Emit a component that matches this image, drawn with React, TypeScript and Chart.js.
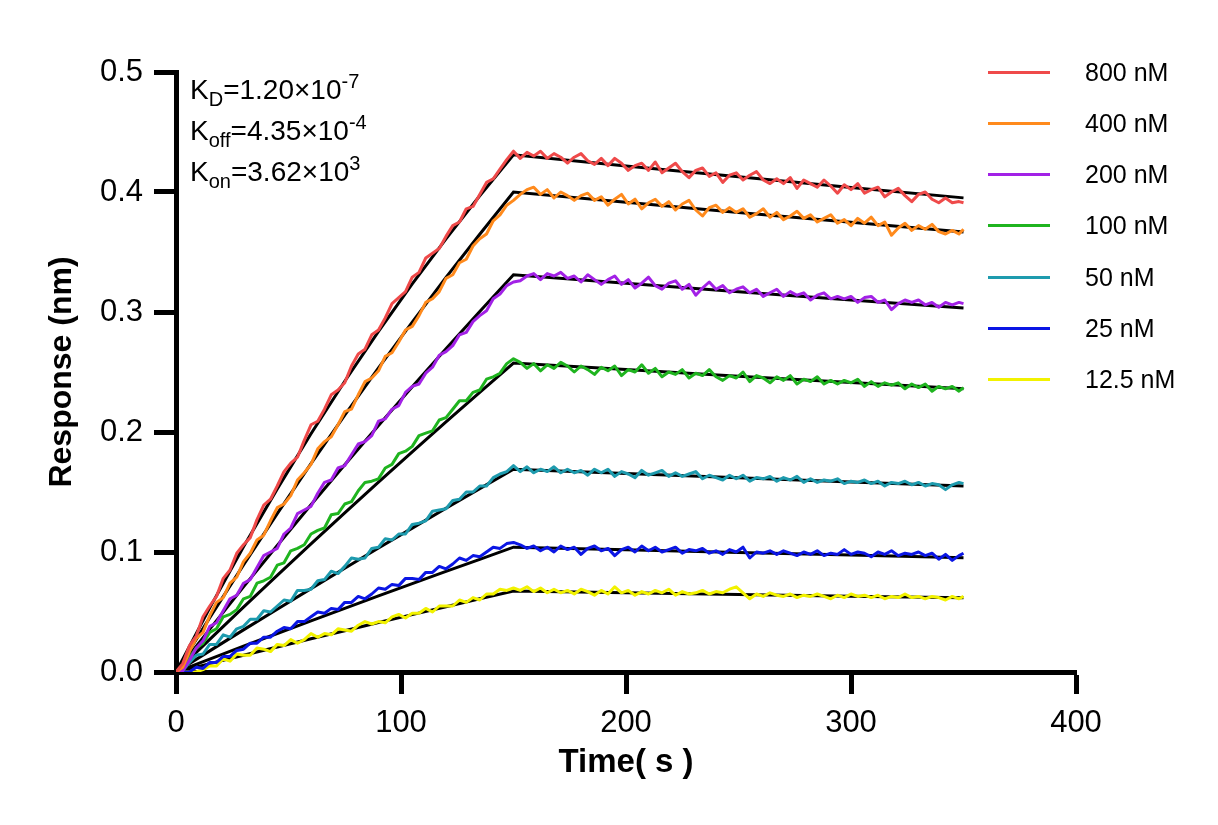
import React, { useEffect, useRef } from "react";
import { Chart, registerables } from "chart.js";

Chart.register(...registerables);

const FONT = 'Arial, "Liberation Sans", Helvetica, sans-serif';

const TIME = [0,3,6,9,12,15,18,21,24,27,30,33,36,39,42,45,48,51,54,57,60,63,66,69,72,75,78,81,84,87,90,93,96,99,102,105,108,111,114,117,120,123,126,129,132,135,138,141,144,147,150,153,156,159,162,165,168,171,174,177,180,183,186,189,192,195,198,201,204,207,210,213,216,219,222,225,228,231,234,237,240,243,246,249,252,255,258,261,264,267,270,273,276,279,282,285,288,291,294,297,300,303,306,309,312,315,318,321,324,327,330,333,336,339,342,345,348,350];

const LABELS = ["800 nM", "400 nM", "200 nM", "100 nM", "50 nM", "25 nM", "12.5 nM"];
const COLORS = ["#EF4A4A", "#FF8A1C", "#A221E6", "#1FB41F", "#1E9BAE", "#0B16E4", "#F2F200"];

const R800 = [0,.007,.022,.030,.046,.055,.063,.078,.085,.099,
.106,.112,.127,.139,.144,.155,.167,.174,.179,.193,
.206,.209,.219,.231,.235,.241,.255,.265,.269,.281,
.285,.295,.307,.312,.317,.329,.333,.345,.349,.353,
.363,.372,.375,.386,.388,.398,.408,.411,.419,.427,
.434,
.428,.433,.430,.434,.428,.432,.429,.424,.429,.432,
.426,.423,.428,.422,.428,.424,.418,.422,.424,.418,
.425,.416,.420,.424,.417,.412,.418,.420,.413,.416,
.408,.414,.416,.410,.414,.417,.410,.407,.411,.407,
.412,.403,.410,.407,.404,.410,.405,.399,.406,.402,
.407,.399,.402,.404,.396,.400,.403,.397,.392,.398,
.400,.394,.391,.395,.391,.392,
.391];

const R400 = [0,.004,.017,.028,.033,.047,.058,.062,.074,.079,
.092,.099,.110,.114,.126,.137,.140,.147,.160,.166,
.173,.186,.192,.196,.206,.217,.219,.231,.242,.245,
.251,.263,.266,.275,.285,.288,.297,.308,.311,.317,
.328,.331,.341,.344,.355,.361,.365,.376,.381,.389,
.393,
.398,.402,.404,.398,.402,.395,.400,.397,.393,.397,
.399,.393,.396,.389,.394,.398,.390,.394,.386,.391,
.394,.388,.392,.385,.390,.393,.385,.380,.387,.389,
.383,.387,.383,.386,.379,.382,.386,.379,.383,.377,
.380,.384,.378,.381,.375,.378,.381,.374,.377,.372,
.378,.374,.379,.372,.375,.364,.370,.374,.368,.372,
.369,.373,.367,.365,.368,.365,
.369];

const R200 = [0,.001,.010,.020,.026,.038,.041,.051,.061,.064,
.074,.077,.087,.097,.100,.103,.115,.120,.132,.135,
.138,.149,.158,.160,.170,.172,.181,.190,.192,.197,
.209,.211,.219,.222,.233,.238,.240,.249,.254,.264,
.267,.272,.281,.283,.292,.297,.301,.311,.315,.322,
.325,
.326,.330,.332,.327,.332,.330,.333,.328,.330,.325,
.331,.327,.323,.327,.330,.323,.327,.320,.324,.329,
.322,.319,.324,.326,.319,.323,.314,.320,.325,.319,
.322,.316,.319,.321,.316,.319,.313,.316,.319,.313,
.317,.314,.316,.310,.314,.316,.311,.313,.311,.313,
.308,.312,.313,.308,.310,.302,.307,.310,.308,.310,
.306,.308,.304,.308,.306,.308,
.307];

const R100 = [0,.002,.012,.020,.024,.033,.036,.046,.048,.052,
.061,.063,.074,.076,.079,.089,.091,.101,.103,.106,
.115,.118,.120,.131,.132,.140,.142,.151,.158,.159,
.161,.170,.173,.182,.184,.188,.197,.199,.201,.210,
.212,.219,.226,.226,.233,.235,.244,.246,.249,.257,
.261,
.258,.253,.257,.251,.256,.253,.258,.255,.250,.255,
.252,.248,.254,.251,.255,.247,.252,.250,.256,.249,
.253,.246,.250,.248,.252,.245,.249,.247,.252,.246,
.243,.247,.245,.250,.242,.247,.245,.241,.246,.243,
.247,.240,.244,.242,.246,.240,.243,.240,.243,.241,
.244,.238,.242,.238,.241,.239,.241,.236,.240,.237,
.240,.234,.238,.236,.238,.234,
.237];

const R50 = [0,.001,.008,.014,.015,.023,.023,.031,.029,.036,
.038,.044,.044,.051,.050,.055,.060,.059,.068,.068,
.069,.076,.077,.084,.082,.088,.095,.094,.095,.103,
.104,.111,.110,.115,.115,.123,.124,.126,.134,.135,
.136,.143,.144,.150,.150,.155,.155,.162,.165,.167,
.172,
.167,.171,.166,.169,.167,.171,.166,.169,.166,.168,
.164,.169,.166,.169,.163,.167,.165,.162,.168,.164,
.166,.168,.163,.166,.163,.165,.167,.161,.164,.162,
.160,.164,.161,.164,.159,.162,.161,.163,.159,.162,
.160,.163,.158,.161,.158,.160,.159,.161,.157,.159,
.158,.160,.157,.159,.155,.158,.157,.159,.156,.158,
.155,.157,.156,.152,.156,.158,
.157];

const R25 = [0,0,0,.004,.003,.008,.008,.013,.013,.018,
.019,.024,.024,.029,.029,.034,.037,.036,.042,.042,
.046,.050,.049,.053,.052,.058,.058,.063,.061,.065,
.070,.069,.073,.072,.078,.078,.077,.083,.083,.088,
.086,.090,.095,.093,.097,.096,.100,.104,.103,.107,
.108,
.106,.103,.105,.101,.104,.100,.105,.102,.104,.098,
.103,.105,.101,.103,.097,.102,.104,.100,.105,.101,
.104,.100,.102,.104,.099,.102,.101,.103,.099,.101,
.098,.102,.100,.104,.095,.100,.099,.101,.098,.101,
.099,.097,.100,.098,.101,.097,.099,.098,.102,.098,
.100,.099,.096,.100,.098,.101,.097,.099,.098,.100,
.097,.099,.094,.098,.093,.097,
.099];

const R12_5 = [0,0,0,0,.002,.005,.005,.011,.009,.015,
.014,.014,.020,.019,.017,.023,.022,.027,.024,.027,
.032,.029,.032,.031,.036,.035,.034,.039,.042,.040,
.042,.041,.046,.048,.045,.049,.049,.053,.050,.055,
.055,.055,.060,.058,.062,.060,.065,.065,.069,.068,
.070,
.068,.071,.067,.070,.066,.069,.066,.068,.065,.069,
.067,.064,.068,.065,.071,.066,.068,.064,.067,.065,
.068,.066,.069,.064,.067,.065,.066,.068,.065,.067,
.066,.069,.071,.066,.061,.065,.063,.066,.064,.063,
.065,.062,.064,.063,.065,.063,.061,.064,.062,.065,
.063,.064,.062,.064,.061,.063,.062,.065,.062,.063,
.061,.063,.062,.060,.063,.061,
.063];

const FIT_TIME = [0,15,30,45,60,75,90,105,120,135,150,200,250,300,350];
const FIT_800 = [0,.0534,.1043,.1526,.1985,.2423,.2839,.3235,.3610,.3969,.4310,.4217,.4127,.4038,.3951];
const FIT_400 = [0,.0453,.0893,.1320,.1736,.2141,.2534,.2916,.3288,.3648,.4000,.3914,.3830,.3747,.3667];
const FIT_200 = [0,.0357,.0709,.1054,.1394,.1727,.2055,.2377,.2693,.3004,.3310,.3239,.3169,.3101,.3034];
const FIT_100 = [0,.0272,.0540,.0805,.1067,.1326,.1582,.1835,.2084,.2331,.2575,.2520,.2465,.2412,.2360];
const FIT_50 = [0,.0176,.0351,.0523,.0695,.0864,.1033,.1199,.1365,.1528,.1690,.1654,.1618,.1583,.1549];
const FIT_25 = [0,.0108,.0215,.0321,.0426,.0530,.0634,.0737,.0838,.0939,.1040,.1018,.0996,.0974,.0953];
const FIT_12_5 = [0,.0070,.0139,.0208,.0277,.0344,.0412,.0478,.0544,.0610,.0675,.0660,.0646,.0632,.0619];

const Y_TICKS = [0, 0.1, 0.2, 0.3, 0.4, 0.5];
const X_TICKS = [0, 100, 200, 300, 400];

const SERIES = [R800, R400, R200, R100, R50, R25, R12_5];
const FITS = [FIT_800, FIT_400, FIT_200, FIT_100, FIT_50, FIT_25, FIT_12_5];

const W = 1218;
const H = 825;

export default function App() {
  const ref = useRef<HTMLCanvasElement | null>(null);

  useEffect(() => {
    const canvas = ref.current;
    if (!canvas) return;
    const dataSets: any[] = SERIES.map((vals, i) => ({
      label: LABELS[i],
      data: TIME.map((t, j) => ({ x: t, y: vals[j] })),
      borderColor: COLORS[i],
      backgroundColor: COLORS[i],
      borderWidth: 3,
      pointRadius: 0,
      tension: 0,
      borderJoinStyle: "round",
      order: 0,
    }));
    const fitSets: any[] = FITS.map((vals, i) => ({
      label: "fit " + LABELS[i],
      data: FIT_TIME.map((t, j) => ({ x: t, y: vals[j] })),
      borderColor: "#000000",
      backgroundColor: "#000000",
      borderWidth: 3,
      pointRadius: 0,
      tension: 0,
      order: 1,
    }));

    const chart = new Chart(canvas, {
      type: "line",
      data: { datasets: [...dataSets, ...fitSets] },
      options: {
        responsive: false,
        animation: false,
        events: [],
        layout: { padding: { left: 0, right: 142, top: 72, bottom: 0 } },
        plugins: { legend: { display: false }, tooltip: { enabled: false }, title: { display: false } },
        scales: {
          x: {
            type: "linear",
            min: 0,
            max: 400,
            afterFit: (s: any) => { s.height = 153; },
            afterBuildTicks: (s: any) => { s.ticks = X_TICKS.map((v) => ({ value: v })); },
            ticks: { color: "#000", font: { family: FONT, size: 31 }, padding: 11, maxRotation: 0, autoSkip: false },
            grid: { display: true, drawOnChartArea: false, drawTicks: true, tickLength: 22, tickWidth: 5, tickColor: "#000" },
            border: { display: true, color: "#000", width: 5 },
            title: { display: true, text: "Time( s )", color: "#000", font: { family: FONT, size: 33, weight: "bold" }, padding: { top: 0, bottom: 42 } },
          },
          y: {
            type: "linear",
            min: 0,
            max: 0.5,
            afterFit: (s: any) => { s.width = 176; },
            afterBuildTicks: (s: any) => { s.ticks = Y_TICKS.map((v) => ({ value: v })); },
            ticks: { color: "#000", font: { family: FONT, size: 31 }, padding: 11, callback: (v: any) => Number(v).toFixed(1), autoSkip: false },
            grid: { display: true, drawOnChartArea: false, drawTicks: true, tickLength: 22, tickWidth: 5, tickColor: "#000" },
            border: { display: true, color: "#000", width: 5 },
            title: { display: true, text: "Response (nm)", color: "#000", font: { family: FONT, size: 32, weight: "bold" }, padding: { top: 43, bottom: 0 } },
          },
        },
      } as any,
    });
    return () => chart.destroy();
  }, []);

  const annStyle: React.CSSProperties = { position: "absolute", left: 190, fontFamily: FONT, fontSize: 28, lineHeight: "30px", color: "#000", whiteSpace: "nowrap" };
  const sub: React.CSSProperties = { fontSize: 20, position: "relative", top: 7 };
  const sup: React.CSSProperties = { fontSize: 20, position: "relative", top: -11 };

  return (
    <div style={{ position: "absolute", left: 0, top: 0, width: W, height: H, background: "#fff", overflow: "hidden" }}>
      <canvas ref={ref} width={W} height={H} style={{ display: "block", width: W, height: H }} />
      <div style={{ ...annStyle, top: 75 }}>K<span style={sub}>D</span>=1.20×10<span style={sup}>-7</span></div>
      <div style={{ ...annStyle, top: 116 }}>K<span style={sub}>off</span>=4.35×10<span style={sup}>-4</span></div>
      <div style={{ ...annStyle, top: 157 }}>K<span style={sub}>on</span>=3.62×10<span style={sup}>3</span></div>
      {LABELS.map((lab, i) => (
        <div key={lab} style={{ position: "absolute", left: 988, top: 72 + i * 51.3 - 15, height: 30, display: "flex", alignItems: "center" }}>
          <div style={{ width: 62, height: 3, background: COLORS[i] }} />
          <div style={{ marginLeft: 35, fontFamily: FONT, fontSize: 25, color: "#000", whiteSpace: "nowrap" }}>{lab}</div>
        </div>
      ))}
    </div>
  );
}
